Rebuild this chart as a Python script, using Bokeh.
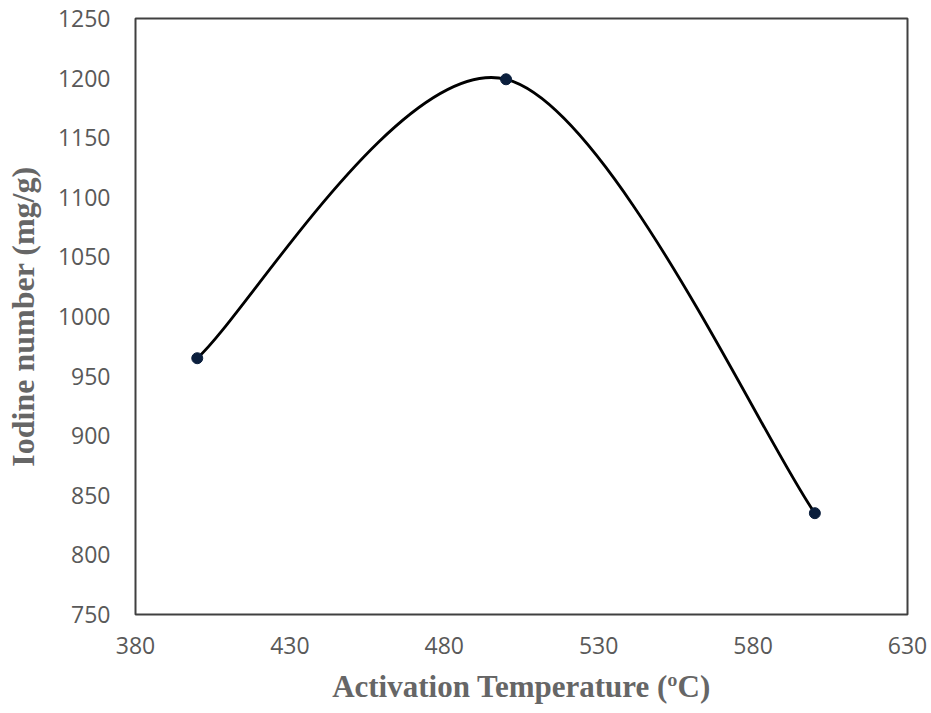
from bokeh.plotting import figure
from bokeh.models import Range1d, FixedTicker, ColumnDataSource
from bokeh.embed import file_html
from bokeh.resources import INLINE

# Data
temperature = [400, 500, 600]
iodine_number = [965, 1199, 835]
x_ticks = [380, 430, 480, 530, 580, 630]
y_ticks = [750, 800, 850, 900, 950, 1000, 1050, 1100, 1150, 1200, 1250]

# Smoothed line (Excel-style cubic Bezier segments, control points from the data)
n = len(temperature)
def pt(i):
    i = max(0, min(n - 1, i))
    return temperature[i], iodine_number[i]

seg = dict(x0=[], y0=[], x1=[], y1=[], cx0=[], cy0=[], cx1=[], cy1=[])
for i in range(n - 1):
    xp, yp = pt(i - 1)
    xa, ya = pt(i)
    xb, yb = pt(i + 1)
    xn, yn = pt(i + 2)
    seg["x0"].append(xa); seg["y0"].append(ya)
    seg["x1"].append(xb); seg["y1"].append(yb)
    seg["cx0"].append(xa + (xb - xp) / 6.0); seg["cy0"].append(ya + (yb - yp) / 6.0)
    seg["cx1"].append(xb - (xn - xa) / 6.0); seg["cy1"].append(yb - (yn - ya) / 6.0)

p = figure(width=931, height=713, output_backend="svg", toolbar_location=None,
           x_range=Range1d(380, 630), y_range=Range1d(750, 1250),
           min_border_left=135, min_border_right=24, min_border_top=18, min_border_bottom=99)

p.background_fill_color = "white"
p.border_fill_color = "white"
p.outline_line_color = "#404040"
p.outline_line_width = 2
p.grid.visible = False

p.bezier(x0="x0", y0="y0", x1="x1", y1="y1", cx0="cx0", cy0="cy0", cx1="cx1", cy1="cy1",
         source=ColumnDataSource(seg), line_color="black", line_width=2.8)
p.scatter(temperature, iodine_number, size=11, fill_color="#0b1f3d", line_color="#0b1f3d")

tick_font = "Open Sans"
for ax in (p.xaxis[0], p.yaxis[0]):
    ax.axis_line_color = None
    ax.major_tick_line_color = None
    ax.minor_tick_line_color = None
    ax.major_tick_out = 0
    ax.major_tick_in = 0
    ax.major_label_text_font = tick_font
    ax.major_label_text_font_size = "23px"
    ax.major_label_text_color = "#595959"
    ax.axis_label_text_font = "Liberation Serif"
    ax.axis_label_text_font_style = "bold"
    ax.axis_label_text_color = "#666666"

p.xaxis[0].axis_label_text_font_size = "31px"
p.yaxis[0].axis_label_text_font_size = "32px"
p.xaxis[0].ticker = FixedTicker(ticks=x_ticks)
p.yaxis[0].ticker = FixedTicker(ticks=y_ticks)
p.xaxis[0].major_label_standoff = 22
p.yaxis[0].major_label_standoff = 25
p.xaxis[0].axis_label = "Activation Temperature (ºC)"
p.yaxis[0].axis_label = "Iodine number (mg/g)"
p.xaxis[0].axis_label_standoff = 12
p.yaxis[0].axis_label_standoff = 14

open("out.html", "w").write(file_html(p, INLINE))
